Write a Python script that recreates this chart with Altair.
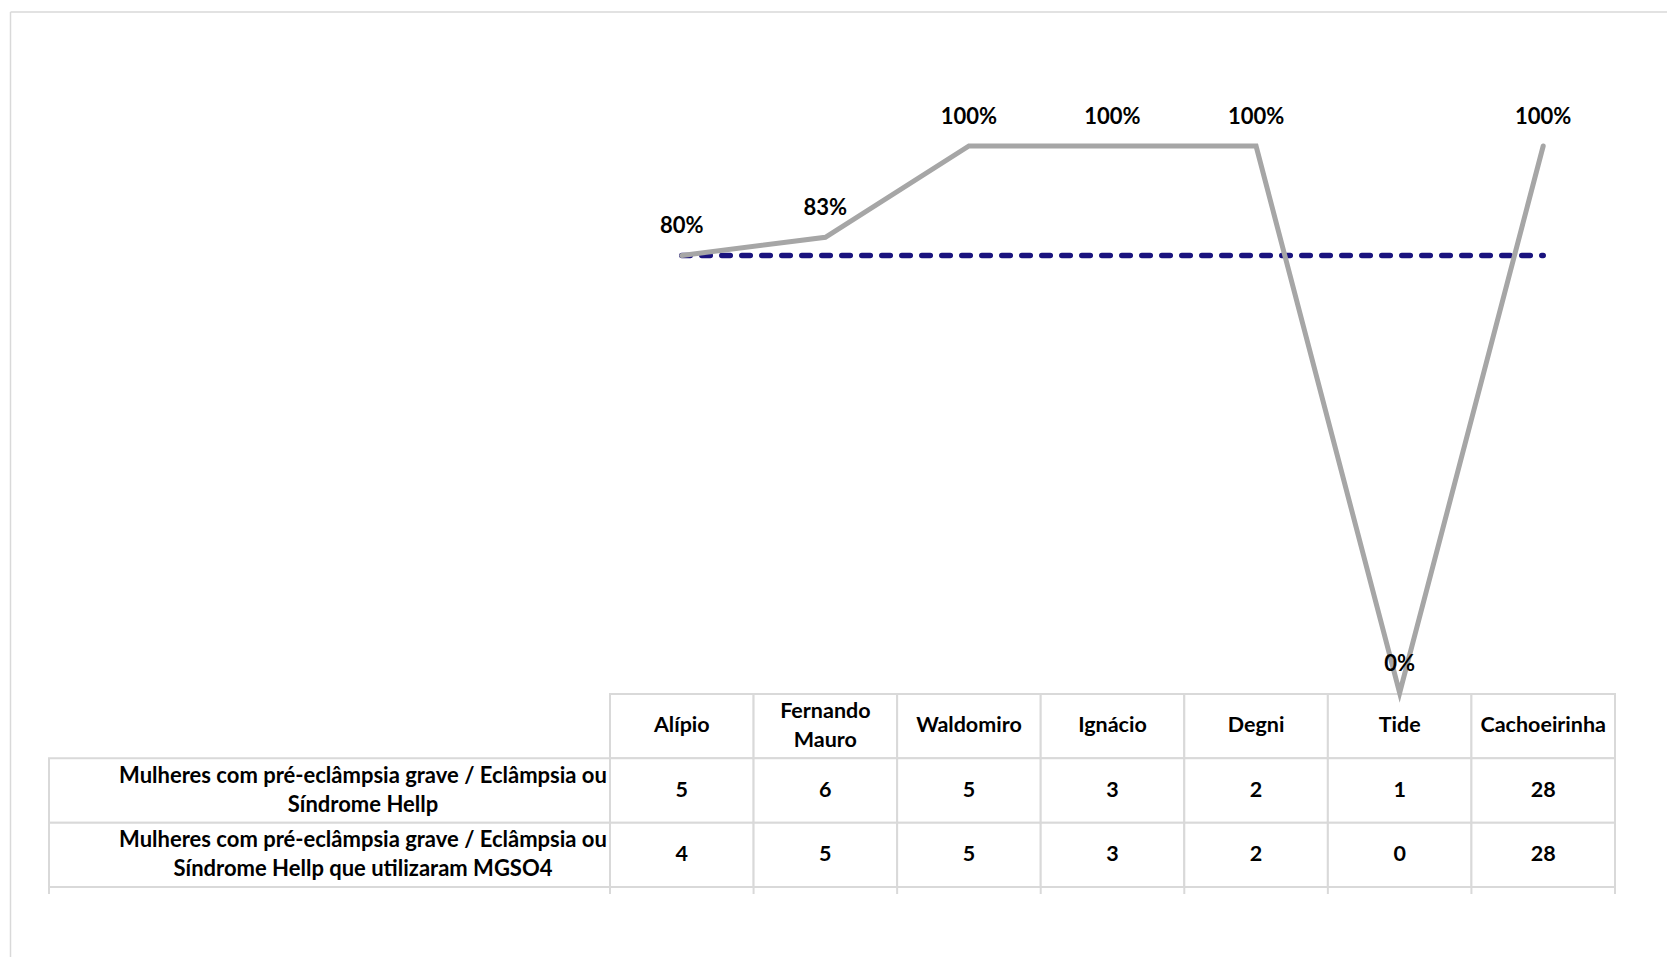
import altair as alt
import pandas as pd

# ---------------- data ----------------
categorias = ["Alípio", "Fernando Mauro", "Waldomiro", "Ignácio", "Degni", "Tide", "Cachoeirinha"]
cabecalho = ["Alípio", "Fernando\nMauro", "Waldomiro", "Ignácio", "Degni", "Tide", "Cachoeirinha"]
gestantes = [5, 6, 5, 3, 2, 1, 28]
utilizaram = [4, 5, 5, 3, 2, 0, 28]
percentual = [0.80, 0.833, 1.00, 1.00, 1.00, 0.00, 1.00]
meta = [0.80, 0.80, 0.80, 0.80, 0.80, 0.80, 0.80]
rotulos_linhas = [
    "Mulheres com pré-eclâmpsia grave / Eclâmpsia ou\nSíndrome Hellp",
    "Mulheres com pré-eclâmpsia grave / Eclâmpsia ou\nSíndrome Hellp que utilizaram MGSO4",
]
chaves_linhas = ["cab", "r1", "r2"]

# ---------------- layout / style ----------------
FONT = "Lato"
W, H = 1659, 949
GRID = "#D9D9D9"
LINE = "#A6A6A6"
META = "#1A137E"
LH = 29

x_scale = alt.Scale(type="band", domain=categorias, range=[602, 1607], paddingInner=0, paddingOuter=0)
y_pct = alt.Scale(domain=[0, 1], range=[685, 138])
y_row = alt.Scale(type="band", domain=chaves_linhas, range=[686, 879], paddingInner=0, paddingOuter=0)

serie = pd.DataFrame({"cat": categorias, "pct": percentual, "meta": meta})

cells = []
for i, c in enumerate(categorias):
    cells.append({"cat": c, "row": "cab", "txt": cabecalho[i]})
    cells.append({"cat": c, "row": "r1", "txt": str(gestantes[i])})
    cells.append({"cat": c, "row": "r2", "txt": str(utilizaram[i])})
cells = pd.DataFrame(cells)
multi = cells["txt"].str.contains("\n")
cells_1 = cells[~multi]
cells_2 = cells[multi]
rows_df = pd.DataFrame({"row": ["r1", "r2"], "txt": rotulos_linhas})
one = pd.DataFrame({"a": [0]})


def X(bp=0.5):
    return alt.X("cat:N", scale=x_scale, axis=None, bandPosition=bp)


YR = alt.Y("row:N", scale=y_row, axis=None, bandPosition=0.5)

# frame
frame_top = alt.Chart(one).mark_rule(color=GRID, strokeWidth=1.5).encode(
    x=alt.value(2.5), x2=alt.value(W), y=alt.value(4))
frame_left = alt.Chart(one).mark_rule(color=GRID, strokeWidth=1.5).encode(
    x=alt.value(2.5), y=alt.value(4), y2=alt.value(H))

# table cells
cell_rects = alt.Chart(cells).mark_rect(fill="white", stroke=GRID, strokeWidth=2).encode(
    x=alt.X("cat:N", scale=x_scale, axis=None),
    y=alt.Y("row:N", scale=y_row, axis=None),
)
label_rects = alt.Chart(rows_df).mark_rect(fill="white", stroke=GRID, strokeWidth=2).encode(
    x=alt.value(41), x2=alt.value(602),
    y=alt.Y("row:N", scale=y_row, axis=None),
)
ext = alt.Chart(serie).mark_rule(color=GRID, strokeWidth=2).encode(
    x=X(0), y=alt.value(879), y2=alt.value(886))
ext_right = alt.Chart(serie.tail(1)).mark_rule(color=GRID, strokeWidth=2).encode(
    x=X(1), y=alt.value(879), y2=alt.value(886))
ext_left = alt.Chart(one).mark_rule(color=GRID, strokeWidth=2).encode(
    x=alt.value(41), y=alt.value(879), y2=alt.value(886))

txt_style = dict(font=FONT, fontWeight="bold", color="black", lineBreak="\n",
                 lineHeight=LH, align="center", baseline="middle")

cell_text_1 = alt.Chart(cells_1).mark_text(fontSize=21.5, **txt_style).encode(
    x=X(0.5), y=YR, text="txt:N")
cell_text_2 = alt.Chart(cells_2).mark_text(fontSize=21.5, dy=-LH / 2, **txt_style).encode(
    x=X(0.5), y=YR, text="txt:N")
label_text = alt.Chart(rows_df).mark_text(fontSize=22, dy=-LH / 2, **txt_style).encode(
    x=alt.value(355), y=YR, text="txt:N")

# lines
meta_line = alt.Chart(serie).mark_line(
    color=META, strokeWidth=5.5, strokeDash=[8.5, 11.5], strokeCap="round"
).encode(x=X(0.5), y=alt.Y("meta:Q", scale=y_pct, axis=None))

pct_line = alt.Chart(serie).mark_line(
    color=LINE, strokeWidth=5, strokeCap="round", strokeJoin="miter"
).encode(x=X(0.5), y=alt.Y("pct:Q", scale=y_pct, axis=None))

pct_text = alt.Chart(serie).mark_text(
    font=FONT, fontSize=22, fontWeight="bold", color="black", dy=-29,
    align="center", baseline="middle",
).encode(
    x=X(0.5), y=alt.Y("pct:Q", scale=y_pct, axis=None),
    text=alt.Text("pct:Q", format=".0%"),
)

chart = alt.layer(
    frame_top, frame_left,
    cell_rects, label_rects, ext, ext_right, ext_left,
    cell_text_1, cell_text_2, label_text,
    meta_line, pct_line, pct_text,
).resolve_scale(y="independent").properties(
    width=W, height=H, padding=0, autosize=alt.AutoSizeParams(type="none"),
).configure_view(stroke=None)

chart.save("out.html", embed_options={"renderer": "svg", "actions": False})
